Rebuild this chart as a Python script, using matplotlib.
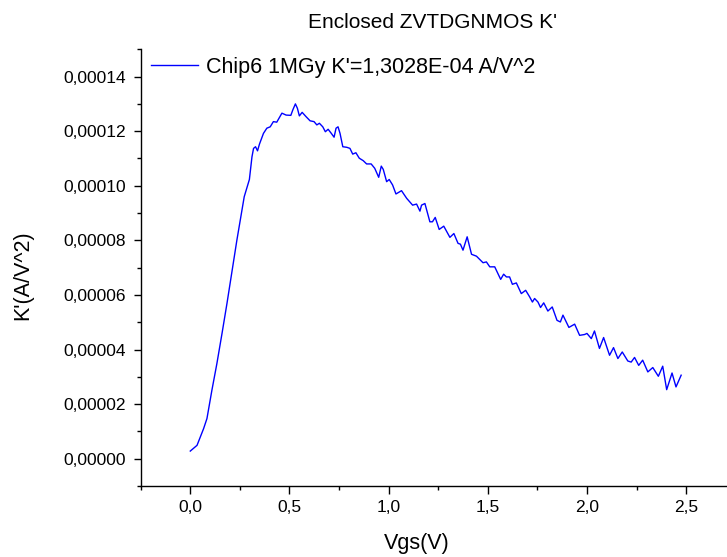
import matplotlib
matplotlib.use("Agg")
import matplotlib.pyplot as plt
from matplotlib.ticker import MultipleLocator, FuncFormatter

plt.rcParams["font.family"] = ["Liberation Sans", "DejaVu Sans"]

# K' vs Vgs (y in units of 1e-5 A/V^2)
vgs = [0.000, 0.034, 0.067, 0.084, 0.109, 0.134, 0.160, 0.185, 0.210, 0.235,
       0.255, 0.272, 0.298, 0.311, 0.319, 0.329, 0.339, 0.349, 0.369, 0.386,
       0.403, 0.419, 0.436, 0.462, 0.483, 0.507, 0.517, 0.530, 0.540, 0.550,
       0.564, 0.584, 0.604, 0.624, 0.638, 0.651, 0.668, 0.681, 0.695, 0.711,
       0.725, 0.735, 0.745, 0.755, 0.769, 0.789, 0.805, 0.819, 0.835, 0.852,
       0.872, 0.889, 0.912, 0.930, 0.950, 0.963, 0.973, 0.990, 1.003, 1.020,
       1.037, 1.065, 1.091, 1.121, 1.141, 1.158, 1.166, 1.183, 1.208, 1.221,
       1.235, 1.255, 1.278, 1.309, 1.329, 1.350, 1.362, 1.375, 1.396, 1.418,
       1.443, 1.476, 1.493, 1.510, 1.535, 1.565, 1.580, 1.594, 1.610, 1.624,
       1.644, 1.669, 1.691, 1.711, 1.725, 1.736, 1.753, 1.766, 1.782, 1.803,
       1.825, 1.849, 1.866, 1.879, 1.909, 1.938, 1.963, 1.988, 2.000, 2.022,
       2.038, 2.063, 2.084, 2.114, 2.134, 2.156, 2.178, 2.206, 2.223, 2.240,
       2.261, 2.281, 2.307, 2.332, 2.360, 2.382, 2.402, 2.429, 2.449, 2.475]
kprime_e5 = [0.28, 0.49, 1.10, 1.47, 2.51, 3.48, 4.59, 5.69, 6.85, 8.01,
             8.86, 9.60, 10.23, 11.06, 11.37, 11.43, 11.28, 11.53, 11.92, 12.11,
             12.16, 12.35, 12.33, 12.66, 12.59, 12.58, 12.78, 13.00, 12.84, 12.56,
             12.69, 12.53, 12.38, 12.35, 12.23, 12.29, 12.16, 11.98, 12.07, 11.92,
             11.78, 12.11, 12.16, 11.92, 11.43, 11.41, 11.37, 11.16, 11.21, 11.01,
             10.92, 10.80, 10.80, 10.64, 10.31, 10.72, 10.60, 10.15, 10.23, 10.03,
             9.70, 9.82, 9.54, 9.29, 9.33, 9.07, 9.29, 9.35, 8.68, 8.68,
             8.84, 8.40, 8.52, 8.11, 8.25, 7.89, 7.86, 7.64, 8.13, 7.49,
             7.42, 7.18, 7.21, 7.03, 7.03, 6.57, 6.76, 6.66, 6.66, 6.39,
             6.44, 6.05, 6.17, 5.93, 5.74, 5.87, 5.74, 5.54, 5.71, 5.41,
             5.56, 5.07, 5.01, 5.26, 4.81, 4.93, 4.52, 4.55, 4.59, 4.40,
             4.68, 4.04, 4.44, 3.79, 4.07, 3.67, 3.91, 3.58, 3.54, 3.71,
             3.42, 3.61, 3.18, 3.34, 3.02, 3.39, 2.53, 3.14, 2.63, 3.06]
kprime = [v * 1e-5 for v in kprime_e5]

title = "Enclosed ZVTDGNMOS K'"
label = "Chip6 1MGy K'=1,3028E-04 A/V^2"

W, H = 727, 557
fig = plt.figure(figsize=(W / 100, H / 100), dpi=100)
# axis runs off the right edge like the original export
ax = fig.add_axes([140.7 / W, 1 - 486 / H, 595 / W, (486 - 49.3) / H])

ax.plot(vgs, kprime, color="#0000ff", lw=1.0, label=label)

ax.set_xlim(-0.25, 2.75)
ax.set_ylim(-0.00001, 0.00015)
ax.xaxis.set_major_locator(MultipleLocator(0.5))
ax.xaxis.set_minor_locator(MultipleLocator(0.25))
ax.yaxis.set_major_locator(MultipleLocator(0.00002))
ax.yaxis.set_minor_locator(MultipleLocator(0.00001))
ax.xaxis.set_major_formatter(FuncFormatter(lambda v, p: f"{v:.1f}".replace(".", ",")))
ax.yaxis.set_major_formatter(FuncFormatter(lambda v, p: f"{v:.5f}".replace(".", ",")))

for s in ("top", "right"):
    ax.spines[s].set_visible(False)
for s in ("left", "bottom"):
    ax.spines[s].set_linewidth(1.0)
ax.tick_params(which="major", direction="out", length=5.4, width=1.0,
               labelsize=12.5, pad=5)
ax.tick_params(which="minor", direction="out", length=2.6, width=1.0)

fig.text(432 / W, 1 - 23 / H, title, ha="center", va="center", fontsize=15)
fig.text(417 / W, 1 - 543 / H, "Vgs(V)", ha="center", va="center", fontsize=15.5)
fig.text(23 / W, 1 - 275 / H, "K'(A/V^2)", ha="center", va="center",
         rotation=90, fontsize=15.5)

fig.legend(loc="center left", bbox_to_anchor=(150.7 / W, 1 - 67 / H),
           frameon=False, fontsize=15.5, handlelength=2.2, handletextpad=0.35,
           borderpad=0, borderaxespad=0)

fig.savefig("out.png", dpi=100)
